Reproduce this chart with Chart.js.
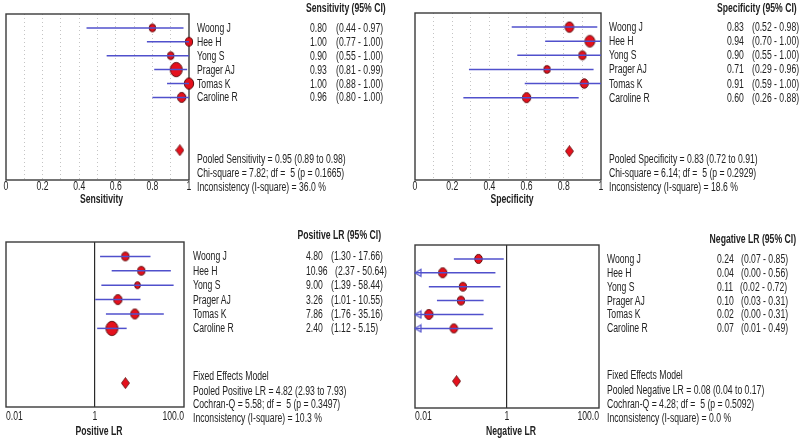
<!DOCTYPE html>
<html><head><meta charset="utf-8">
<script src="https://cdn.jsdelivr.net/npm/chart.js@4.4.1/dist/chart.umd.min.js"></script>
<style>
html,body{margin:0;padding:0;background:#fff;}
#wrap{position:relative;width:800px;height:438px;overflow:hidden;background:#fff;font-family:'Liberation Sans',Arial,sans-serif;}
#wrap canvas{position:absolute;}
.t{position:absolute;font-size:12px;line-height:14px;color:#222;white-space:pre;transform:scaleX(0.72);transform-origin:0 50%;}
.h{font-weight:bold;transform-origin:100% 50%;}
</style></head><body><div id="wrap"></div>
<script>
// ---------- data ----------
const studies = ['Woong J','Hee H','Yong S','Prager AJ','Tomas K','Caroline R'];

const sensEst = [0.80, 1.00, 0.90, 0.93, 1.00, 0.96];
const sensLo  = [0.44, 0.77, 0.55, 0.81, 0.88, 0.80];
const sensHi  = [0.97, 1.00, 1.00, 0.99, 1.00, 1.00];
const sensWeight = [3.6, 4.0, 3.6, 6.6, 5.2, 4.6];
const sensPooled = 0.95;
const sensSummary = ['Pooled Sensitivity = 0.95 (0.89 to 0.98)', 'Chi-square = 7.82; df =  5 (p = 0.1665)', 'Inconsistency (I-square) = 36.0 %'];

const specEst = [0.83, 0.94, 0.90, 0.71, 0.91, 0.60];
const specLo  = [0.52, 0.70, 0.55, 0.29, 0.59, 0.26];
const specHi  = [0.98, 1.00, 1.00, 0.96, 1.00, 0.88];
const specWeight = [4.8, 5.4, 4.0, 3.6, 4.4, 4.6];
const specPooled = 0.83;
const specSummary = ['Pooled Specificity = 0.83 (0.72 to 0.91)', 'Chi-square = 6.14; df =  5 (p = 0.2929)', 'Inconsistency (I-square) = 18.6 %'];

const plrEst = [4.80, 10.96, 9.00, 3.26, 7.86, 2.40];
const plrLo  = [1.30, 2.37, 1.39, 1.01, 1.76, 1.12];
const plrHi  = [17.66, 50.64, 58.44, 10.55, 35.16, 5.15];
const plrWeight = [4.0, 4.0, 3.2, 4.6, 4.6, 6.6];
const plrPooled = 4.82;
const plrSummary = ['Fixed Effects Model', 'Pooled Positive LR = 4.82 (2.93 to 7.93)', 'Cochran-Q = 5.58; df =  5 (p = 0.3497)', 'Inconsistency (I-square) = 10.3 %'];

const nlrEst = [0.24, 0.04, 0.11, 0.10, 0.02, 0.07];
const nlrLo  = [0.07, 0.00, 0.02, 0.03, 0.00, 0.01];
const nlrHi  = [0.85, 0.56, 0.72, 0.31, 0.31, 0.49];
const nlrWeight = [4.2, 4.6, 4.0, 4.0, 4.6, 4.2];
const nlrPooled = 0.08;
const nlrSummary = ['Fixed Effects Model', 'Pooled Negative LR = 0.08 (0.04 to 0.17)', 'Cochran-Q = 4.28; df =  5 (p = 0.5092)', 'Inconsistency (I-square) = 0.0 %'];

const propTicks = [0, 0.2, 0.4, 0.6, 0.8, 1];
const propTickLabels = ['0', '0.2', '0.4', '0.6', '0.8', '1'];
const lrTicks = [0.01, 1, 100];
const lrTickLabels = ['0.01', '1', '100.0'];

// ---------- styles / layout ----------
const MARK = '#e5101c', MARK_EDGE = '#5c0c0c', WHISK = '#5050cc', FRAME = '#3a3a3a', TXT = '#222';
const SX = 0.72;
const POOLED_ROW = 8.8;
const CW = 400, CH = 219;

const panels = [
  {left:0, top:0, box:[4,14,189,180], yMax:10.94, scale:'linear', min:0, max:1,
   est:sensEst, lo:sensLo, hi:sensHi, w:sensWeight, pooled:sensPooled, summary:sensSummary,
   header:'Sensitivity (95% CI)', title:'Sensitivity', ticks:propTicks, tickLabels:propTickLabels,
   tickY:187, titleY:200, namesX:197, valX:310, ciX:336, headerRight:386, headerY:8, sumY:[159,173,187]},
  {left:400, top:0, box:[15,13,201,180], yMax:10.84, scale:'linear', min:0, max:1,
   est:specEst, lo:specLo, hi:specHi, w:specWeight, pooled:specPooled, summary:specSummary,
   header:'Specificity (95% CI)', title:'Specificity', ticks:propTicks, tickLabels:propTickLabels,
   tickY:187, titleY:200, namesX:609, valX:727, ciX:752, headerRight:797, headerY:8, sumY:[159,173,187]},
  {left:0, top:219, box:[4,23,184,188], yMax:10.46, scale:'logarithmic', min:0.01, max:100,
   est:plrEst, lo:plrLo, hi:plrHi, w:plrWeight, pooled:plrPooled, summary:plrSummary,
   header:'Positive LR (95% CI)', title:'Positive LR', ticks:lrTicks, tickLabels:lrTickLabels,
   tickY:198, titleY:213, namesX:193, valX:306, ciX:331, headerRight:381, headerY:235, sumY:[375.5,390.5,404,418]},
  {left:400, top:219, box:[15,26,199,189], yMax:10.73, scale:'logarithmic', min:0.01, max:100,
   est:nlrEst, lo:nlrLo, hi:nlrHi, w:nlrWeight, pooled:nlrPooled, summary:nlrSummary,
   header:'Negative LR (95% CI)', title:'Negative LR', ticks:lrTicks, tickLabels:lrTickLabels,
   tickY:198, titleY:213, namesX:607, valX:717, ciX:739, headerRight:796, headerY:239, sumY:[374.5,390,404,418]}
];

// ---------- marker images ----------
function ellipseImg(r){
  const rx = r*0.9, ry = r*1.08;
  const c = document.createElement('canvas');
  c.width = Math.round(rx*2+3); c.height = Math.round(ry*2+3);
  const g = c.getContext('2d');
  g.beginPath(); g.ellipse(c.width/2, c.height/2, rx, ry, 0, 0, Math.PI*2);
  g.fillStyle = MARK; g.fill(); g.lineWidth = 1; g.strokeStyle = MARK_EDGE; g.stroke();
  return c;
}
function diamondImg(){
  const c = document.createElement('canvas'); c.width = 9; c.height = 12;
  const g = c.getContext('2d');
  g.beginPath(); g.moveTo(4.5,0.5); g.lineTo(8.5,6); g.lineTo(4.5,11.5); g.lineTo(0.5,6); g.closePath();
  g.fillStyle = MARK; g.fill(); g.lineWidth = 0.8; g.strokeStyle = MARK_EDGE; g.stroke();
  return c;
}
function arrowImg(){
  const c = document.createElement('canvas'); c.width = 18; c.height = 10;
  const g = c.getContext('2d');
  g.beginPath(); g.moveTo(9,5); g.lineTo(15,1.5); g.lineTo(15,8.5); g.closePath();
  g.lineWidth = 1.2; g.strokeStyle = WHISK; g.stroke();
  return c;
}

// ---------- plugin: frame, tick labels, axis title ----------
const framePlugin = {
  id:'frame',
  beforeDatasetsDraw(chart){
    const a = chart.chartArea, ctx = chart.ctx;
    ctx.save(); ctx.strokeStyle = FRAME; ctx.lineWidth = 1.4;
    ctx.strokeRect(a.left, a.top, a.right-a.left, a.bottom-a.top);
    ctx.restore();
  },
  afterDraw(chart){
    const p = chart.options.plugins.frame, ctx = chart.ctx, xs = chart.scales.x, a = chart.chartArea;
    ctx.save(); ctx.fillStyle = TXT; ctx.textBaseline = 'middle';
    ctx.font = '12px "Liberation Sans", Arial, sans-serif';
    p.ticks.forEach((v, i) => {
      let align = 'center';
      if (p.edgeAlign && i === 0) align = 'left';
      if (p.edgeAlign && i === p.ticks.length-1) align = 'right';
      const px = xs.getPixelForValue(v);
      ctx.save(); ctx.translate(px, p.tickY); ctx.scale(SX, 1); ctx.textAlign = align;
      ctx.fillText(p.tickLabels[i], 0, 0); ctx.restore();
    });
    ctx.font = 'bold 12px "Liberation Sans", Arial, sans-serif';
    ctx.save(); ctx.translate((a.left+a.right)/2 + 4, p.titleY); ctx.scale(SX, 1); ctx.textAlign = 'center';
    ctx.fillText(p.title, 0, 0); ctx.restore();
    ctx.restore();
  }
};

const wrap = document.getElementById('wrap');
function addText(str, x, y, bold, right){
  const d = document.createElement('div');
  d.className = 't' + (bold ? ' h' : '');
  d.textContent = str;
  d.style.top = (y - 7) + 'px';
  if (right) d.style.right = (800 - x) + 'px'; else d.style.left = x + 'px';
  wrap.appendChild(d);
  return d;
}

panels.forEach(p => {
  const cv = document.createElement('canvas');
  cv.width = CW; cv.height = CH;
  cv.style.left = p.left + 'px'; cv.style.top = p.top + 'px';
  wrap.appendChild(cv);

  const isLog = p.scale === 'logarithmic';
  const clampLo = v => Math.max(v, p.min);
  const datasets = [];
  // whiskers (drawn on top of markers)
  studies.forEach((s, i) => {
    datasets.push({type:'scatter', showLine:true, data:[{x:clampLo(p.lo[i]), y:i}, {x:p.hi[i], y:i}],
      borderColor:WHISK, borderWidth:1.5, pointRadius:0, order:0, clip:false});
  });
  // open arrow heads for truncated lower limits
  const arrows = [];
  studies.forEach((s, i) => { if (p.lo[i] <= p.min) arrows.push({x:p.min, y:i}); });
  if (arrows.length) datasets.push({type:'scatter', data:arrows, pointStyle:arrowImg(), pointRadius:5, order:0, clip:false});
  // study markers
  datasets.push({type:'scatter', data:studies.map((s, i) => ({x:p.est[i], y:i})),
    pointStyle:p.w.map(r => ellipseImg(r)), pointRadius:5, order:1, clip:false});
  // pooled estimate
  datasets.push({type:'scatter', data:[{x:p.pooled, y:POOLED_ROW}], pointStyle:diamondImg(), pointRadius:5, order:1, clip:false});

  const xScale = {
    type:p.scale, min:p.min, max:p.max, display:true, position:'bottom',
    ticks:{display:false},
    title:{display:false},
    border:{display:false, dash: isLog ? [] : [1,3]},
    grid:{drawTicks:false, lineWidth: isLog ? 1.2 : 1,
      color: c => {
        const v = c.tick ? c.tick.value : null;
        if (isLog) return (v === 1) ? '#2a2a2a' : 'rgba(0,0,0,0)';
        return (v <= 0.001 || v >= 0.999) ? 'rgba(0,0,0,0)' : '#c4c4c4';
      }},
    afterFit: s => { s.height = 0; }
  };
  if (isLog) xScale.afterBuildTicks = s => { s.ticks = p.ticks.map(v => ({value:v})); };
  else xScale.ticks.stepSize = 0.1;

  const chart = new Chart(cv, {
    type:'scatter',
    data:{datasets},
    options:{
      responsive:false, animation:false, maintainAspectRatio:false,
      layout:{padding:{left:p.box[0], top:p.box[1], right:CW - p.box[2], bottom:CH - p.box[3]}},
      plugins:{legend:{display:false}, tooltip:{enabled:false},
        frame:{ticks:p.ticks, tickLabels:p.tickLabels, edgeAlign:isLog, title:p.title, tickY:p.tickY, titleY:p.titleY}},
      scales:{
        x:xScale,
        y:{type:'linear', min:-1, max:p.yMax, reverse:true, display:false}
      }
    },
    plugins:[framePlugin]
  });

  // side table text
  addText(p.header, p.headerRight, p.headerY, true, true);
  studies.forEach((s, i) => {
    const y = p.top + chart.scales.y.getPixelForValue(i);
    addText(s, p.namesX, y);
    const v = addText(p.est[i].toFixed(2), p.valX, y);
    const vw = v.getBoundingClientRect().width;
    const ciLeft = Math.max(p.ciX, p.valX + vw + 7);
    addText('(' + p.lo[i].toFixed(2) + ' - ' + p.hi[i].toFixed(2) + ')', ciLeft, y);
  });
  p.summary.forEach((line, k) => addText(line, p.namesX, p.sumY[k]));
});
</script>
</body></html>
